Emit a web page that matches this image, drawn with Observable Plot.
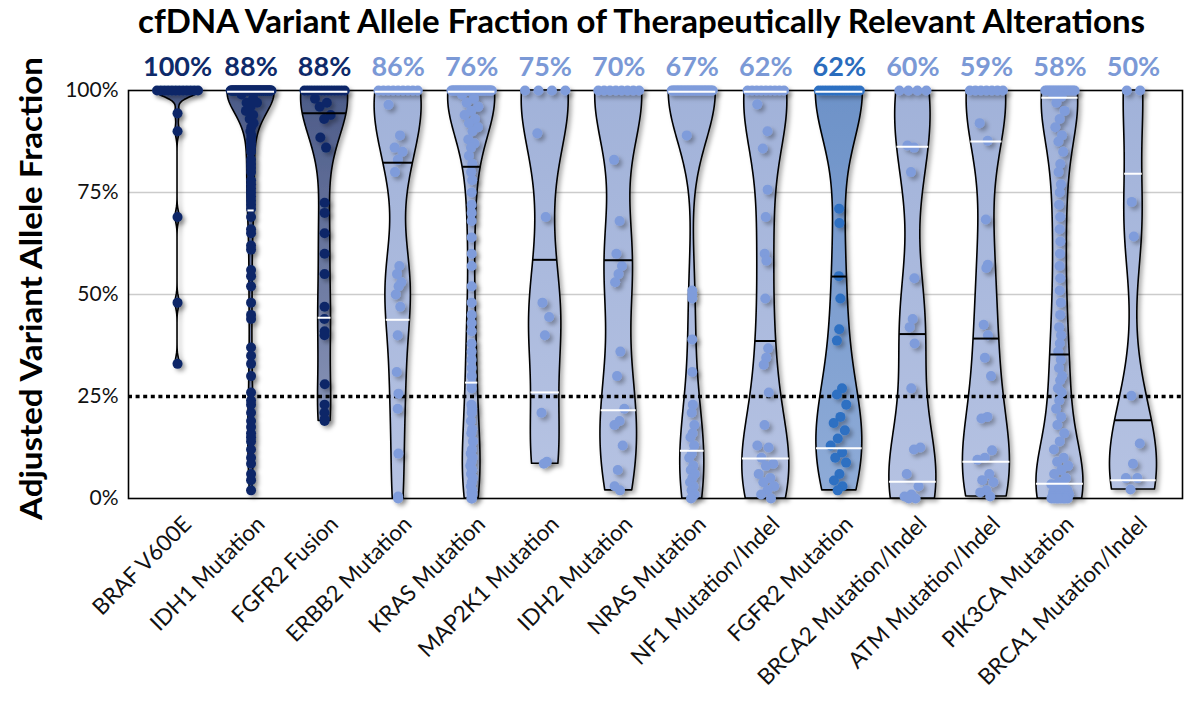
<!DOCTYPE html>
<html><head><meta charset="utf-8">
<script src="https://cdn.jsdelivr.net/npm/d3@7"></script>
<script src="https://cdn.jsdelivr.net/npm/@observablehq/plot@0.6"></script>
<style>
html,body{margin:0;padding:0;background:#fff;}
#chart svg{display:block;}
</style></head><body><div id="chart"></div>
<script>
const titleText = "cfDNA Variant Allele Fraction of Therapeutically Relevant Alterations";
const yLabelText = "Adjusted Variant Allele Fraction";
const categories = ["BRAF V600E","IDH1 Mutation","FGFR2 Fusion","ERBB2 Mutation","KRAS Mutation","MAP2K1 Mutation","IDH2 Mutation","NRAS Mutation","NF1 Mutation/Indel","FGFR2 Mutation","BRCA2 Mutation/Indel","ATM Mutation/Indel","PIK3CA Mutation","BRCA1 Mutation/Indel"];
const groups = ["navy","navy","navy","light","light","light","light","light","light","mid","light","light","light","light"];
const pctLabels = ["100%","88%","88%","86%","76%","75%","70%","67%","62%","62%","60%","59%","58%","50%"];
const yTickValues = [0, 0.25, 0.5, 0.75, 1];
const yTickLabels = ["0%","25%","50%","75%","100%"];
const threshold = 0.25;
// quartile lines (null = not visible)
const medians = [null, null, 0.944, 0.823, 0.813, 0.585, 0.584, null, 0.386, 0.544, 0.403, 0.392, 0.353, 0.192];
const q1s     = [null, 0.706, 0.443, 0.438, 0.284, 0.26, 0.216, 0.117, 0.098, 0.123, 0.041, 0.090, 0.036, 0.045];
const q3s     = [null, 0.997, 0.997, 0.997, 0.997, null, null, 0.997, 0.997, 0.997, 0.862, 0.875, 0.982, 0.796];

const braf = [1,1,1,1,1,1,1,1,1,1,1,1, 0.944,0.90,0.69,0.48,0.33];
const idh1 = [1,1,1,1,1,1,1,1,1,1, 1,1,1,1,1,1,1,1,1,1, 1,1,1,1,1,1,1,1,1,1, 1,1,1,1,1,1,1,1,1,1, 1,1,1,1,1,1,1,1,1,1, 1,1,1,1,1,1,1,1,1,1, 1,1,
  0.99,0.98,0.97,0.97,0.96,0.95,0.94,0.93,0.92,0.91,0.90,0.89,0.88,0.87,0.86,0.85,0.83,0.82,0.81,0.80,0.78,0.77,0.76,0.75,0.74,0.73,0.72,0.71,
  0.69,0.66,0.65,0.62,0.61,0.56,0.545,0.52,0.48,0.45,0.44,0.37,0.35,0.33,0.30,0.26,
  0.24,0.23,0.21,0.19,0.175,0.16,0.15,0.14,0.12,0.10,0.085,0.06,0.045,0.02];
const fgfr2Fusion = [1,1,1,1,1,1,1,1,1,1,1,1,1, 0.98,0.97,0.96, 0.94,0.93,0.885,0.86,0.725,0.70,0.65,0.60,0.55, 0.47,0.44,0.41,0.40,0.28, 0.23,0.21,0.195,0.19];
const erbb2 = [1,1,1,1,1,1,1,1,1, 0.965,0.89,0.86,0.85,0.83,0.80, 0.57,0.55,0.53,0.52,0.50,0.47,0.40,0.31,0.257, 0.22,0.11,0.005,0.0];
const kras = [1,1,1,1,1,1,1,1,1,1, 1,1,1,1,1,1,1,1,1,1, 1,1,1,1,1,1,1,1,1,1, 1,1,1,1,1,1,1,1,
  0.99,0.98,0.97,0.96,0.95,0.94,0.93,0.92,0.91,0.90,0.88,0.87,0.86,0.84,0.82,
  0.80,0.78,0.75,0.72,0.70,0.68,0.64,0.60,0.57,0.52,0.48,0.45,0.43,0.41,0.38,0.36,0.34,0.32,0.30,0.28,0.27,
  0.23,0.22,0.21,0.19,0.17,0.16,0.14,0.12,0.11,0.10,0.09,0.08,0.07,0.06,0.05,0.04,0.03,0.02,0.015,0.01,0.005,0.0,0.0];
const map2k1 = [1,1,1,1, 0.895,0.69,0.48,0.445,0.40,0.21,0.09,0.085];
const idh2 = [1,1,1,1,1,1,1,1, 0.83,0.68,0.60,0.57,0.55,0.53,0.36,0.30, 0.22,0.19,0.18,0.13,0.07,0.03,0.02];
const nras = [1,1,1,1,1,1,1,1,1,1, 1,1,1,1,1,1,1,1,1,1, 1,1,1,1,1,1,1,1,1,1,
  0.89,0.51,0.50,0.49,0.39,0.31,
  0.23,0.21,0.18,0.16,0.15,0.13,0.11,0.10,0.08,0.07,0.06,0.05,0.04,0.03,0.02,0.01,0.005,0.0];
const nf1 = [1,1,1,1,1,1,1,1,1, 0.966,0.90,0.858,0.757,0.69,0.60,0.583,0.49,0.368,0.345,0.328,0.26,
  0.18,0.13,0.125,0.10,0.085,0.08,0.06,0.05,0.04,0.03,0.02,0.01,0.0];
const fgfr2Mut = [1,1,1,1,1,1,1,1,1,1,1,1,1, 0.71,0.675,0.545,0.49,0.415,0.387,0.27,0.255,
  0.23,0.20,0.185,0.167,0.147,0.13,0.113,0.10,0.088,0.06,0.044,0.03,0.02];
const brca2 = [1,1,1,1, 0.865,0.86,0.80,0.54,0.44,0.42,0.38,0.27, 0.125,0.12,0.06,0.03,0.01,0.005,0.0,0.0];
const atm = [1,1,1,1,1,1,1, 0.92,0.877,0.684,0.573,0.565,0.426,0.40,0.345,0.30,
  0.20,0.196,0.118,0.10,0.095,0.06,0.045,0.04,0.02,0.015,0.005];
const pik3ca = [1,1,1,1,1,1,1,1,1,1, 1,1,1,1,1,1, 0.99,0.985,
  0.97,0.95,0.93,0.91,0.89,0.875,0.85,0.82,0.80,0.77,0.75,0.72,0.69,0.66,0.63,0.60,0.57,0.54,0.51,0.48,0.45,0.42,0.40,0.38,0.36,0.34,0.32,0.30,0.29,0.27,0.26,
  0.24,0.22,0.20,0.18,0.16,0.14,0.12,0.10,0.09,0.08,0.07,0.06,0.05,0.04,0.035,0.03,0.025,0.02,0.02,0.015,0.015,0.01,0.01,0.01,0.005,0.005,0.005,0.005,0,0,0,0,0,0,0,0];
const brca1 = [1,1, 0.727,0.642,0.252, 0.135,0.085,0.05,0.05,0.022];
const valueLists = [braf, idh1, fgfr2Fusion, erbb2, kras, map2k1, idh2, nras, nf1, fgfr2Mut, brca2, atm, pik3ca, brca1];

// styling
const violinBase = {navy: "#6a78a0", light: "#aab9de", mid: "#7c9dcf"};
const violinGrad = {navy: "url(#gNavy)", light: "url(#gLight)", mid: "url(#gMid)"};
const dotColor = {navy: "#0c2868", light: "#7f9cdb", mid: "#2d70c2"};
const labelColor = {navy: "#0e2a6a", light: "#7b99d6", mid: "#2a6cbd"};

const W = 1200, H = 703, ML = 128, MR = 18, MT = 90, MB = 703 - 498;
const xDomain = [-2/3, categories.length - 1 + 2/3];
const pxPerUnit = (W - ML - MR) / (xDomain[1] - xDomain[0]);
const HALF = 23.5 / pxPerUnit;
const R = 5;

function kernelSum(vals, bw, y) { let s = 0; for (const v of vals) { const z = (y - v) / bw; s += Math.exp(-0.5 * z * z); } return s; }
function bandwidth(vals) {
  const n = vals.length, sd = d3.deviation(vals);
  const s = [...vals].sort(d3.ascending);
  const iqr = d3.quantileSorted(s, 0.75) - d3.quantileSorted(s, 0.25);
  const m = iqr > 0 ? Math.min(sd, iqr / 1.34) : sd;
  return Math.max(0.015, Math.min(0.13, 0.9 * m * Math.pow(n, -0.2) * 0.7));
}
const stats = valueLists.map(vals => {
  const bw = bandwidth(vals), lo = d3.min(vals), hi = d3.max(vals);
  const ys = d3.range(201).map(k => lo + (hi - lo) * k / 200);
  const dens = ys.map(y => kernelSum(vals, bw, y));
  return {bw, lo, hi, ys, dens, mx: d3.max(dens)};
});
const hwAt = (i, y) => HALF * kernelSum(valueLists[i], stats[i].bw, y) / stats[i].mx;

const violinRows = [];
stats.forEach((s, i) => s.ys.forEach((y, k) => violinRows.push({i, y, lo: i - HALF * s.dens[k] / s.mx, hi: i + HALF * s.dens[k] / s.mx, group: groups[i]})));

const dotRows = [];
valueLists.forEach((vals, i) => {
  const tops = vals.filter(v => v >= 0.999), rest = vals.filter(v => v < 0.999);
  const spread = Math.max(0, hwAt(i, 1) * pxPerUnit - 3);
  tops.forEach((v, k) => {
    const off = tops.length === 1 ? 0 : -spread + 2 * spread * k / (tops.length - 1);
    dotRows.push({i, v, x: i + off / pxPerUnit, group: groups[i]});
  });
  rest.forEach((v, k) => {
    const u = ((k * 0.618034) % 1) * 2 - 1;
    const room = Math.max(0, hwAt(i, v) * pxPerUnit - R - 1);
    dotRows.push({i, v, x: i + u * room * 0.55 / pxPerUnit, group: groups[i]});
  });
});

const lineRows = [];
categories.forEach((c, i) => {
  if (medians[i] != null) lineRows.push({i, y: medians[i], hw: hwAt(i, medians[i]), color: "#000"});
  if (q1s[i] != null) lineRows.push({i, y: q1s[i], hw: hwAt(i, q1s[i]), color: "#fff"});
  if (q3s[i] != null) lineRows.push({i, y: q3s[i], hw: hwAt(i, q3s[i]), color: "#fff"});
});

const violinMarks = ["navy", "light", "mid"].map(g =>
  Plot.area(violinRows.filter(d => d.group === g), {x1: "lo", x2: "hi", y1: "y", y2: "y", z: "i", fill: violinBase[g], stroke: "#000", strokeWidth: 1.6, className: "violin-" + g}));

const svg = Plot.plot({
  width: W, height: H, marginLeft: ML, marginRight: MR, marginTop: MT, marginBottom: MB,
  style: {fontFamily: "Lato, 'Open Sans', sans-serif", background: "#fff", color: "#000", overflow: "visible"},
  x: {domain: xDomain, axis: null},
  y: {domain: [0, 1], axis: null},
  color: {type: "identity"},
  marks: [
    Plot.ruleY([0.5, 0.75], {stroke: "#cccccc", strokeWidth: 1.5}),
    Plot.frame({stroke: "#000", strokeWidth: 1.6}),
    ...violinMarks,
    Plot.ruleY([threshold], {stroke: "#000", strokeWidth: 3.5, strokeDasharray: "4,3.6"}),
    Plot.dot(dotRows, {x: "x", y: "v", r: R, fill: d => dotColor[d.group], stroke: null, className: "points"}),
    Plot.ruleY(lineRows, {y: "y", x1: d => d.i - d.hw, x2: d => d.i + d.hw, stroke: "color", strokeWidth: 2}),
    Plot.text(yTickValues, {frameAnchor: "left", y: d => d, text: (d, k) => yTickLabels[k], textAnchor: "end", lineAnchor: "middle", dx: -10, fontSize: 21, fill: "#111"}),
    Plot.text(pctLabels, {x: (d, i) => i, frameAnchor: "top", lineAnchor: "middle", dy: -23, text: d => d, fill: (d, i) => labelColor[groups[i]], fontSize: 27, fontWeight: "bold"}),
    Plot.text(categories, {x: (d, i) => i, frameAnchor: "bottom", lineAnchor: "middle", text: d => d, rotate: -45, textAnchor: "end", dx: 10, dy: 22, fontSize: 22.5, fill: "#111"}),
    Plot.text([titleText], {frameAnchor: "top", textAnchor: "middle", lineAnchor: "middle", text: d => d, dx: -14, dy: -68, fontSize: 32, fontWeight: "bold", fill: "#000"}),
    Plot.text([yLabelText], {frameAnchor: "left", textAnchor: "middle", lineAnchor: "middle", text: d => d, rotate: -90, dx: -96, dy: -6, fontSize: 30, fontWeight: "bold", fill: "#000"})
  ]
});

const defs = document.createElementNS("http://www.w3.org/2000/svg", "defs");
defs.innerHTML = `
<linearGradient id="gNavy" x1="0" y1="0" x2="0" y2="1"><stop offset="0" stop-color="#4c5b88"/><stop offset="1" stop-color="#8793b6"/></linearGradient>
<linearGradient id="gLight" x1="0" y1="0" x2="0" y2="1"><stop offset="0" stop-color="#a1b2d9"/><stop offset="1" stop-color="#b5c2e2"/></linearGradient>
<linearGradient id="gMid" x1="0" y1="0" x2="0" y2="1"><stop offset="0" stop-color="#6d92c8"/><stop offset="1" stop-color="#8eabd7"/></linearGradient>
<filter id="shadow" x="-50%" y="-20%" width="200%" height="140%"><feDropShadow dx="3" dy="3" stdDeviation="2" flood-color="#000" flood-opacity="0.3"/></filter>`;
svg.insertBefore(defs, svg.firstChild);
["navy", "light", "mid"].forEach(g => svg.querySelectorAll(".violin-" + g + " path").forEach(p => { p.setAttribute("fill", violinGrad[g]); p.setAttribute("filter", "url(#shadow)"); }));
svg.querySelectorAll(".points").forEach(g => g.setAttribute("filter", "url(#shadow)"));
svg.querySelectorAll("text").forEach(t => {
  if (t.textContent === titleText) { t.setAttribute("textLength", 1007); t.setAttribute("lengthAdjust", "spacingAndGlyphs"); }
  if (t.textContent === yLabelText) { t.setAttribute("textLength", 463); t.setAttribute("lengthAdjust", "spacingAndGlyphs"); }
});
document.getElementById("chart").appendChild(svg);
</script>
</body></html>
